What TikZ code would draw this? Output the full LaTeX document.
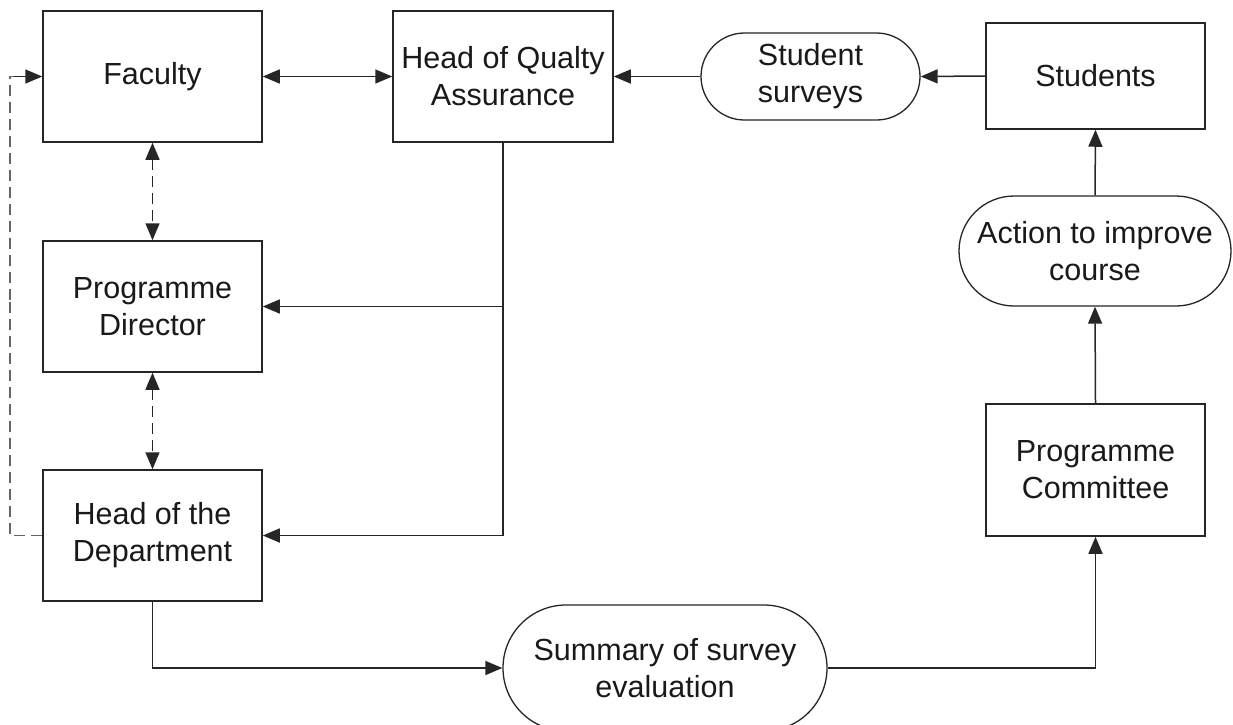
\documentclass[tikz,border=0pt]{standalone}
\usepackage{fontspec}
\setmainfont{Liberation Sans}
\usetikzlibrary{arrows.meta}
\begin{document}
\begin{tikzpicture}[x=1pt,y=-1pt,
  every node/.style={font=\fontsize{30.5}{37}\selectfont, align=center, inner sep=0pt, text=black!90},
  box/.style={draw=black!85, line width=1.5pt, minimum width=219pt, minimum height=131pt},
  pill/.style={draw=black!85, line width=1.3pt},
  conn/.style={draw=black!85, line width=1.5pt},
  tip/.style={-{Triangle[length=17pt,width=14pt]}},
  dtip/.style={{Triangle[length=17pt,width=14pt]}-{Triangle[length=17pt,width=14pt]}},
  dsh/.style={dash pattern=on 11pt off 6pt}
]
\useasboundingbox (0,0) rectangle (1233,724);
\clip (0,0) rectangle (1233,724);
\fill[white] (0,0) rectangle (1233,724);

\node[box] (fac) at (152.5,76.5) {Faculty};
\node[box, minimum width=220pt] (hqa) at (503,76.5) {Head of Qualty\\Assurance};
\node[pill, minimum width=219pt, minimum height=87pt, rounded corners=43.5pt] (ss) at (810.5,76.5) {Student\\surveys};
\node[box, minimum height=106pt] (stu) at (1095.5,76) {Students};
\node[pill, minimum width=272pt, minimum height=110pt, rounded corners=55pt] (act) at (1095,251) {Action to improve\\course};
\node[box] (pd) at (152.5,306.5) {Programme\\Director};
\node[box] (hod) at (152.5,535.5) {Head of the\\Department};
\node[pill, minimum width=324pt, minimum height=126pt, rounded corners=63pt] (sum) at (665,668) {Summary of survey\\evaluation};
\node[box, minimum height=132pt] (pc) at (1095.5,470) {Programme\\Committee};

\coordinate (lft) at (10,300);

\draw[conn, dtip] (fac.east) -- (hqa.west);
\draw[conn, dtip, dsh] (fac.south) -- (pd.north);
\draw[conn, dtip, dsh] (pd.south) -- (hod.north);
\draw[conn, draw=black!60, dsh] (hod.west) -| (lft);
\draw[conn, draw=black!60, dsh] (lft) |- ([xshift=-28pt]fac.west);
\draw[conn, tip] ([xshift=-28pt]fac.west) -- (fac.west);
\draw[conn, tip] (hqa.south) |- (hod.east);
\draw[conn, tip] (hqa.south |- pd.east) -- (pd.east);
\draw[conn, tip] (ss.west) -- (hqa.east);
\draw[conn, tip] (stu.west) -- (ss.east);
\draw[conn, tip] (act.north) -- (stu.south);
\draw[conn, tip] (pc.north) -- (act.south);
\draw[conn, tip] (hod.south) |- (sum.west);
\draw[conn, tip] (sum.east) -| (pc.south);
\end{tikzpicture}
\end{document}
